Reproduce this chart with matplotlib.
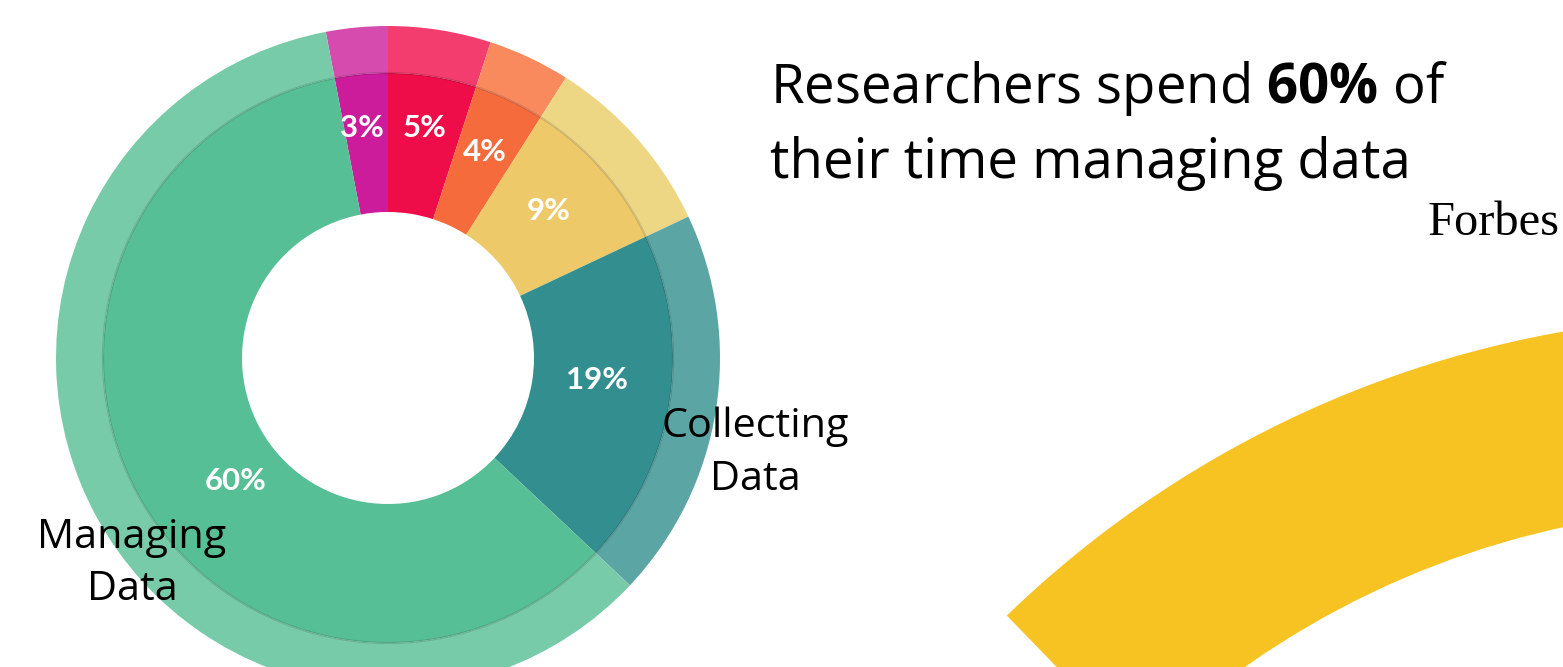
import matplotlib
matplotlib.use("Agg")
import numpy as np
import matplotlib.pyplot as plt
from matplotlib.patches import Wedge, Circle

# ---------------- data ----------------
shares = [3, 5, 4, 9, 19, 60]                      # percent, clockwise from top-left
pct_labels = ["3%", "5%", "4%", "9%", "19%", "60%"]
side_labels = ["", "", "", "", "Collecting\nData", "Managing\nData"]
inner_colors = ["#CC1B9B", "#EE0D48", "#F56B3C", "#EEC96A", "#338F8F", "#57BF95"]
outer_colors = ["#D64CAE", "#F23D6E", "#F98A5E", "#EDD785", "#5CA5A5", "#78CBA8"]
title_line1 = r"Researchers spend $\mathbf{60\%}$ of"
title_line2 = "their time managing data"
source = "Forbes"

# ---------------- layout ----------------
W, H = 1563, 667
CX, CY = 388, H - 358
R_OUT, R_MID, R_IN = 332, 285, 146
START = 90 + 3.6 * shares[0]
LABEL_R = [231, 233, 228, 218, 210, 196]
LABEL_DANG = [1, 0, 0, 1, 3, 10]

plt.rcParams["mathtext.fontset"] = "custom"
plt.rcParams["mathtext.rm"] = "Open Sans"
plt.rcParams["mathtext.bf"] = "Open Sans:bold"

fig = plt.figure(figsize=(W / 100, H / 100), dpi=100)
fig.patch.set_facecolor("white")
ax = fig.add_axes([0, 0, 1, 1])

# decorative yellow arc (bottom right)
ax.add_patch(Wedge((1748, H - 1380.4), 1065, 60, 134.1, width=1065 - 873,
                   facecolor="#F7C322", edgecolor="none", zorder=1))

# outer light ring
ax.pie(shares, radius=R_OUT, center=(CX, CY), startangle=START, counterclock=False,
       colors=outer_colors, wedgeprops=dict(width=R_OUT - R_MID, linewidth=0))
# inner darker ring
wedges, _ = ax.pie(shares, radius=R_MID, center=(CX, CY), startangle=START,
                   counterclock=False, colors=inner_colors,
                   wedgeprops=dict(width=R_MID - R_IN, linewidth=0))
ax.add_patch(Circle((CX, CY), R_MID, fill=False, edgecolor=(0, 0, 0, 0.13),
                    linewidth=1.6, zorder=5))

for w, lab, r, da in zip(wedges, pct_labels, LABEL_R, LABEL_DANG):
    ang = np.deg2rad((w.theta1 + w.theta2) / 2 + da)
    ax.text(CX + r * np.cos(ang), CY + r * np.sin(ang), lab, color="white",
            family="Lato", weight="bold", fontsize=22.5, ha="center", va="center",
            zorder=6)

fig.canvas.draw()
rend = fig.canvas.get_renderer()


def fit(t, target_w):
    w = t.get_window_extent(rend).width
    t.set_fontsize(t.get_fontsize() * target_w / w)
    return t.get_fontsize()


# title
t1 = ax.text(770, H - 103, title_line1, family="Open Sans", fontsize=40,
             ha="left", va="baseline", color="black", zorder=7)
fs = fit(t1, 677)
ax.text(770, H - 178, title_line2, family="Open Sans", fontsize=fs,
        ha="left", va="baseline", color="black", zorder=7)

# source
ts = ax.text(1560, H - 235, source, family="Liberation Serif", fontsize=28,
             ha="right", va="baseline", color="black", zorder=7)
fit(ts, 132)

# side labels
coll = side_labels[4].split("\n")
man = side_labels[5].split("\n")
tc = ax.text(755, H - 437, coll[0], family="Open Sans", fontsize=28,
             ha="center", va="baseline", color="black", zorder=7)
fs2 = fit(tc, 188)
ax.text(755, H - 490, coll[1], family="Open Sans", fontsize=fs2,
        ha="center", va="baseline", color="black", zorder=7)
ax.text(132, H - 548, man[0], family="Open Sans", fontsize=fs2,
        ha="center", va="baseline", color="black", zorder=7)
ax.text(132, H - 600, man[1], family="Open Sans", fontsize=fs2,
        ha="center", va="baseline", color="black", zorder=7)

ax.set_xlim(0, W)
ax.set_ylim(0, H)
ax.set_aspect("auto")
ax.set_axis_off()

fig.savefig("out.png", dpi=100, facecolor="white")
